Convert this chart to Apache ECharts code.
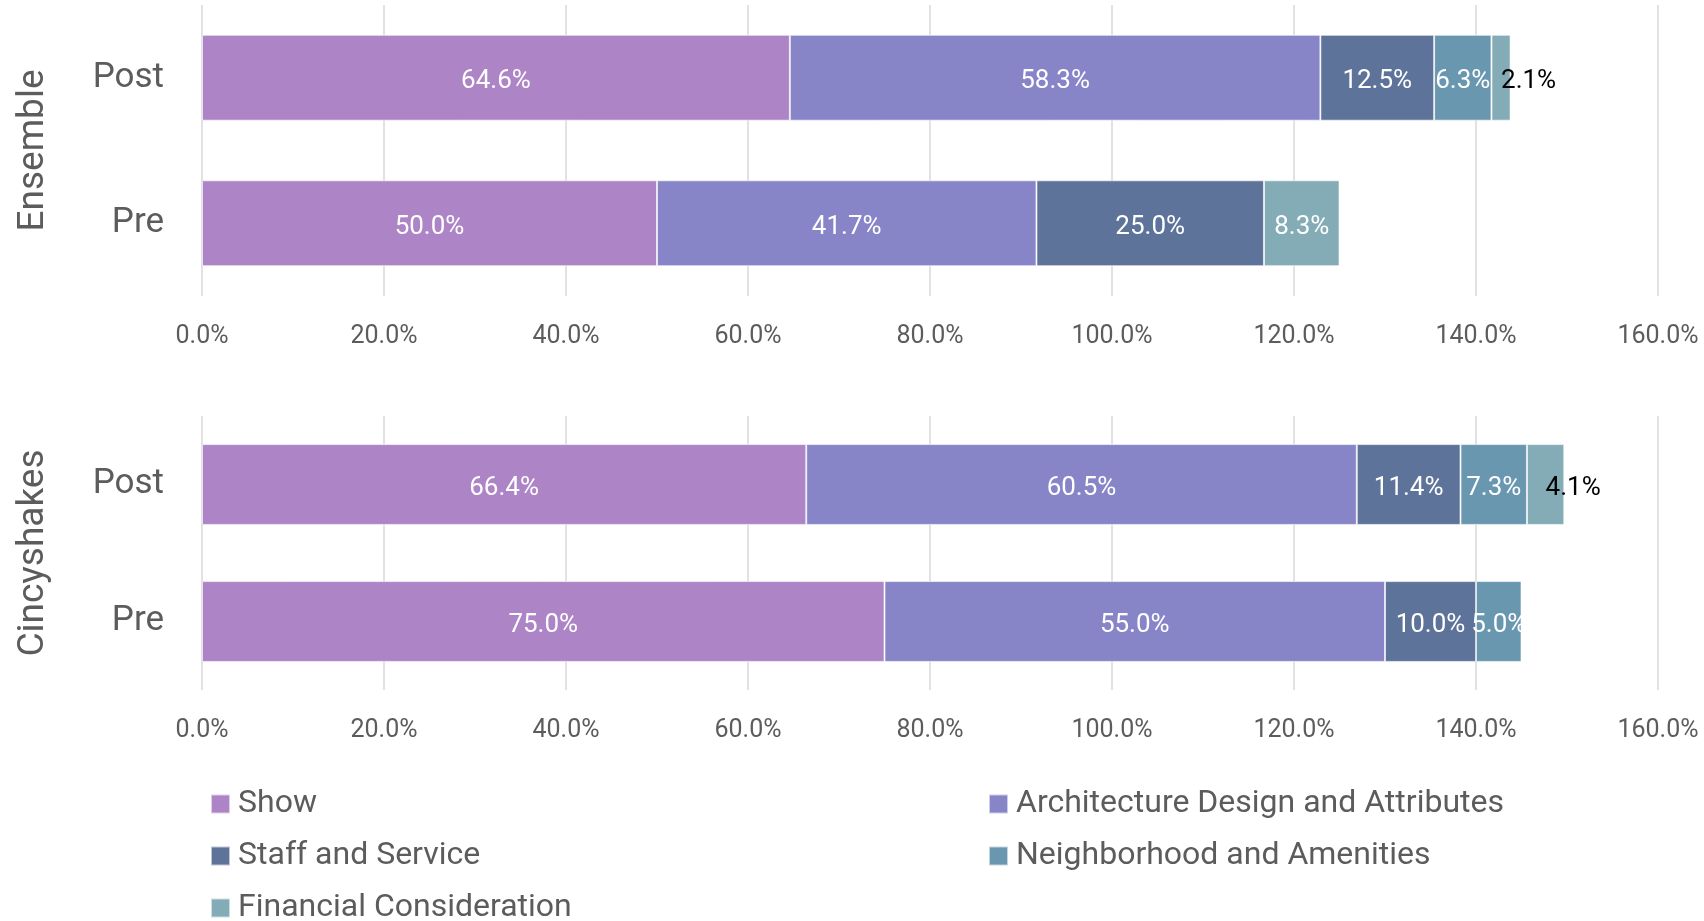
<!DOCTYPE html>
<html>
<head>
<meta charset="utf-8">
<script src="https://cdn.jsdelivr.net/npm/echarts@6/dist/echarts.min.js"></script>
<style>
  html, body { margin: 0; padding: 0; background: #fff; }
  #chart { width: 1704px; height: 921px; }
</style>
</head>
<body>
<div id="chart"></div>
<script>
const groups = ['Ensemble', 'Cincyshakes'];
const periods = ['Post', 'Pre'];
const seriesNames = ['Show', 'Architecture Design and Attributes', 'Staff and Service', 'Neighborhood and Amenities', 'Financial Consideration'];
const colors = ['#AD84C6', '#8784C7', '#5D739A', '#6997AF', '#84ACB6'];
const xTicks = [0, 20, 40, 60, 80, 100, 120, 140, 160];

// [Post, Pre] for each series
const ensembleShow = [64.6, 50.0];
const ensembleArch = [58.3, 41.7];
const ensembleStaff = [12.5, 25.0];
const ensembleNeighborhood = [6.3, null];
const ensembleFinancial = [2.1, 8.3];

const cincyShow = [66.4, 75.0];
const cincyArch = [60.5, 55.0];
const cincyStaff = [11.4, 10.0];
const cincyNeighborhood = [7.3, 5.0];
const cincyFinancial = [4.1, null];

const ensemble = [ensembleShow, ensembleArch, ensembleStaff, ensembleNeighborhood, ensembleFinancial];
const cincy = [cincyShow, cincyArch, cincyStaff, cincyNeighborhood, cincyFinancial];

const font = 'Roboto, "Open Sans", sans-serif';
const grey = '#5c5c5c';

let Chart = echarts.init(document.getElementById('chart'));

function makeSeries(values, gridIndex) {
  return values.map((data, i) => ({
    name: seriesNames[i],
    type: 'bar',
    stack: 'total' + gridIndex,
    xAxisIndex: gridIndex,
    yAxisIndex: gridIndex,
    barCategoryGap: '41%',
    emphasis: { disabled: true },
    itemStyle: { color: colors[i], borderColor: 'rgba(255,255,255,0.6)', borderWidth: 1 },
    label: {
      show: true,
      position: 'inside',
      color: '#fff',
      fontFamily: font,
      fontSize: 26,
      offset: [0, 4],
      formatter: (p) => p.value == null ? '' : p.value.toFixed(1) + '%'
    },
    // tiny segments get a dark label pushed to the right
    data: data.map((v) => (v != null && v < 5)
      ? { value: v, label: { color: '#000', align: 'left' } }
      : v)
  }));
}

function makeXAxis(gridIndex) {
  return {
    type: 'value',
    gridIndex: gridIndex,
    min: xTicks[0],
    max: xTicks[xTicks.length - 1],
    interval: xTicks[1] - xTicks[0],
    axisLine: { show: false },
    axisTick: { show: false },
    splitLine: { lineStyle: { color: '#d9d9d9', width: 1.5 } },
    axisLabel: {
      color: grey,
      fontFamily: font,
      fontSize: 25,
      margin: 28,
      formatter: (v) => v.toFixed(1) + '%'
    }
  };
}

function makeYAxis(gridIndex) {
  return {
    type: 'category',
    gridIndex: gridIndex,
    data: periods,
    inverse: true,
    name: groups[gridIndex],
    nameLocation: 'middle',
    nameRotate: 90,
    nameGap: 150,
    nameTextStyle: { color: grey, fontFamily: font, fontSize: 37 },
    axisLine: { show: false },
    axisTick: { show: false },
    axisLabel: { color: grey, fontFamily: font, fontSize: 35, margin: 38, padding: [7, 0, 0, 0] }
  };
}

const legendBase = {
  orient: 'vertical',
  top: 788,
  height: 200,
  padding: 0,
  icon: 'rect',
  itemWidth: 19,
  itemHeight: 19,
  itemGap: 20,
  selectedMode: false,
  textStyle: { color: grey, fontFamily: font, fontSize: 32, lineHeight: 32, padding: [0, 0, 0, 3] }
};

let option = {
  animation: false,
  color: colors,
  grid: [
    { left: 202, right: 46, top: 5, height: 291 },
    { left: 202, right: 46, top: 416, height: 274 }
  ],
  xAxis: [makeXAxis(0), makeXAxis(1)],
  yAxis: [makeYAxis(0), makeYAxis(1)],
  legend: [
    Object.assign({}, legendBase, { left: 210, data: [seriesNames[0], seriesNames[2], seriesNames[4]] }),
    Object.assign({}, legendBase, { left: 988, data: [seriesNames[1], seriesNames[3]] })
  ],
  series: makeSeries(ensemble, 0).concat(makeSeries(cincy, 1))
};

Chart.setOption(option);
</script>
</body>
</html>
